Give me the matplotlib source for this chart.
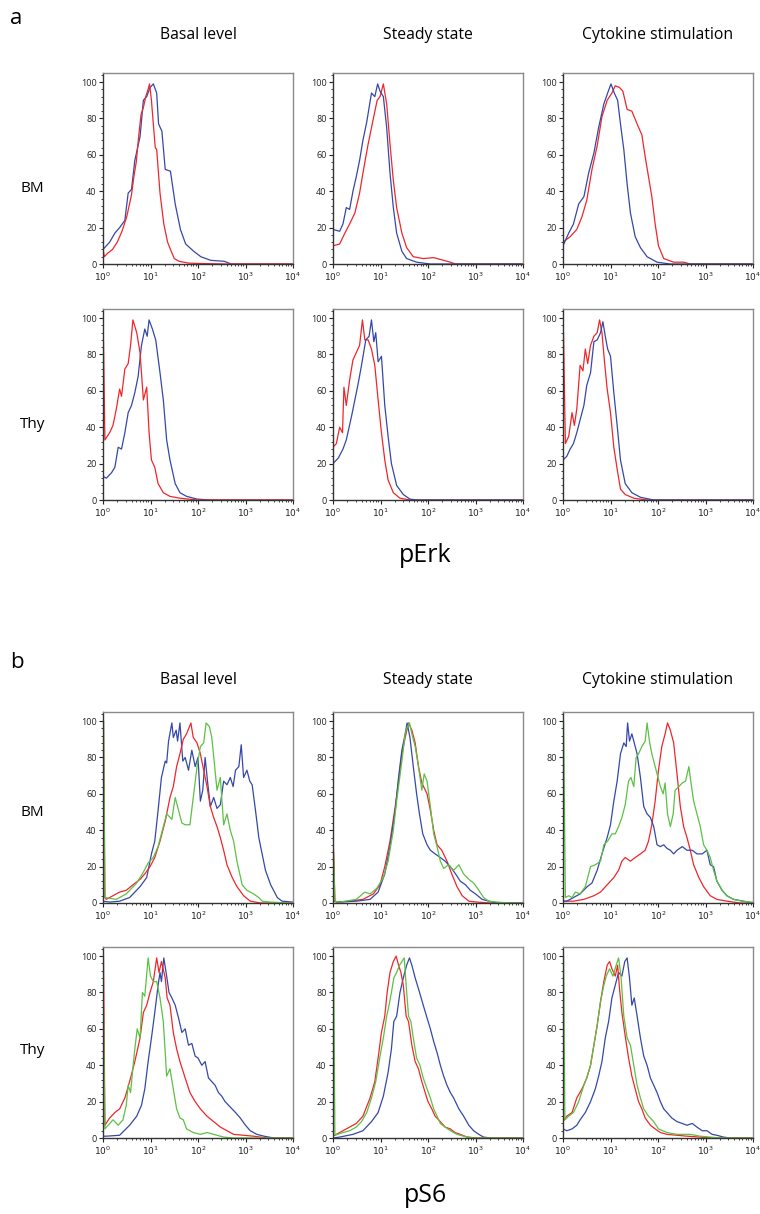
import numpy as np
import matplotlib
matplotlib.use("Agg")
import matplotlib.pyplot as plt
from matplotlib.ticker import MultipleLocator, LogLocator, NullFormatter, FixedFormatter

plt.rcParams['font.family'] = ['Open Sans', 'DejaVu Sans']

# columns / rows / panels
conditions = ["Basal level", "Steady state", "Cytokine stimulation"]
tissues = ["BM", "Thy"]
markers = ["pErk", "pS6"]
panel_letters = ["a", "b"]
y_ticks = [0, 20, 40, 60, 80, 100]
x_decades = [0, 1, 2, 3, 4]

# each curve: (log10 intensity, % of max)
# ---- pErk, BM ----
perk_bm_basal_red = [(0, 8), (0.03, 4), (0.1, 6), (0.2, 8), (0.3, 12), (0.4, 18), (0.5, 26), (0.6, 38), (0.65, 48),
                     (0.7, 56), (0.75, 70), (0.8, 82), (0.85, 86), (0.9, 92), (0.95, 96), (0.98, 99), (1.02, 90),
                     (1.05, 80), (1.1, 64), (1.13, 63), (1.2, 39), (1.28, 22), (1.36, 12), (1.42, 8), (1.5, 3),
                     (1.6, 1.5), (1.8, 0.5), (2.0, 0.3), (2.6, 0), (4, 0)]
perk_bm_basal_blue = [(0, 8), (0.07, 10), (0.14, 12), (0.25, 17), (0.35, 20), (0.46, 24), (0.53, 39), (0.6, 41),
                      (0.67, 57), (0.78, 70), (0.85, 90), (0.92, 92), (0.99, 97), (1.06, 99), (1.13, 94), (1.17, 77),
                      (1.24, 73), (1.31, 52), (1.42, 51), (1.52, 33), (1.63, 19), (1.74, 11), (1.91, 7), (2.06, 4),
                      (2.27, 2), (2.55, 1.5), (2.7, 0), (4, 0)]
perk_bm_steady_blue = [(0, 19), (0.14, 18), (0.21, 22), (0.28, 31), (0.35, 30), (0.42, 40), (0.49, 48), (0.56, 57),
                       (0.63, 68), (0.71, 78), (0.81, 94), (0.88, 92), (0.94, 99), (0.99, 95), (1.06, 92), (1.13, 75),
                       (1.2, 50), (1.27, 31), (1.34, 17), (1.45, 7), (1.55, 3), (1.76, 1), (2.05, 0), (4, 0)]
perk_bm_steady_red = [(0, 10), (0.14, 11), (0.25, 17), (0.35, 22), (0.46, 28), (0.56, 39), (0.63, 50), (0.74, 66),
                      (0.85, 80), (0.93, 90), (0.99, 92), (1.06, 99), (1.13, 88), (1.2, 66), (1.27, 46), (1.34, 31),
                      (1.45, 17), (1.55, 9), (1.69, 4), (1.9, 3), (2.12, 3.5), (2.33, 2), (2.47, 1), (2.58, 0), (4, 0)]
perk_bm_cyto_blue = [(0, 10), (0.12, 17), (0.22, 22), (0.33, 33), (0.44, 37), (0.54, 50), (0.65, 61), (0.75, 75),
                     (0.86, 88), (0.94, 94), (1.01, 99), (1.08, 94), (1.15, 90), (1.21, 77), (1.28, 63), (1.35, 44),
                     (1.42, 28), (1.52, 15), (1.63, 9), (1.77, 4), (1.98, 1), (2.26, 0), (4, 0)]
perk_bm_cyto_red = [(0, 12), (0.15, 15), (0.29, 19), (0.4, 26), (0.5, 35), (0.61, 52), (0.72, 65), (0.82, 81),
                    (0.93, 90), (1.03, 94), (1.1, 98), (1.19, 97), (1.26, 95), (1.35, 85), (1.45, 84), (1.56, 77),
                    (1.66, 71), (1.73, 59), (1.8, 48), (1.87, 37), (1.94, 22), (2.01, 10), (2.12, 3), (2.33, 1),
                    (2.54, 1), (2.68, 0), (4, 0)]
# ---- pErk, Thy ----
perk_thy_basal_red = [(0.005, 0), (0.01, 87), (0.04, 33), (0.14, 37), (0.21, 41), (0.28, 50), (0.35, 61), (0.39, 57),
                      (0.46, 72), (0.53, 75), (0.58, 85), (0.63, 99), (0.71, 92), (0.78, 81), (0.85, 55), (0.92, 62),
                      (0.97, 37), (1.02, 22), (1.09, 18), (1.16, 9), (1.27, 4), (1.41, 2), (1.62, 1), (1.98, 0), (4, 0)]
perk_thy_basal_blue = [(0, 13), (0.07, 12), (0.18, 15), (0.25, 18), (0.32, 29), (0.39, 28), (0.46, 37), (0.53, 48),
                       (0.6, 52), (0.67, 59), (0.74, 68), (0.81, 85), (0.88, 94), (0.93, 90), (0.97, 99), (1.04, 94),
                       (1.11, 88), (1.2, 70), (1.27, 55), (1.34, 33), (1.41, 22), (1.52, 9), (1.62, 4), (1.76, 2),
                       (1.98, 0.5), (2.26, 0), (4, 0)]
perk_thy_steady_red = [(0, 29), (0.07, 31), (0.14, 40), (0.2, 37), (0.23, 62), (0.28, 52), (0.35, 66), (0.42, 77),
                       (0.49, 81), (0.56, 85), (0.62, 99), (0.67, 88), (0.74, 88), (0.81, 83), (0.88, 74), (0.95, 55),
                       (1.02, 37), (1.09, 22), (1.16, 11), (1.27, 4), (1.41, 1), (1.62, 0), (4, 0)]
perk_thy_steady_blue = [(0, 20), (0.11, 23), (0.21, 28), (0.28, 33), (0.39, 46), (0.46, 55), (0.53, 64), (0.6, 74),
                        (0.69, 88), (0.76, 90), (0.81, 99), (0.86, 87), (0.9, 92), (0.95, 76), (1.02, 79), (1.09, 52),
                        (1.16, 35), (1.23, 20), (1.34, 8), (1.48, 3), (1.62, 0.5), (1.76, 0), (4, 0)]
perk_thy_cyto_red = [(0.005, 0), (0.01, 92), (0.05, 31), (0.12, 35), (0.19, 48), (0.24, 41), (0.29, 50), (0.36, 74),
                     (0.42, 71), (0.47, 83), (0.52, 75), (0.58, 85), (0.65, 90), (0.72, 92), (0.77, 99), (0.82, 92),
                     (0.87, 77), (0.93, 61), (1.0, 48), (1.07, 29), (1.14, 17), (1.21, 6), (1.31, 3), (1.49, 1),
                     (1.77, 0), (4, 0)]
perk_thy_cyto_blue = [(0, 22), (0.08, 24), (0.15, 28), (0.22, 31), (0.29, 37), (0.36, 44), (0.44, 52), (0.5, 63),
                      (0.58, 70), (0.65, 87), (0.72, 88), (0.79, 92), (0.84, 98), (0.89, 90), (0.94, 83), (1.0, 79),
                      (1.07, 59), (1.14, 41), (1.21, 22), (1.31, 9), (1.45, 4), (1.63, 1.5), (1.91, 0), (4, 0)]

# ---- pS6, BM ----
ps6_bm_basal_red = [(0.005, 0), (0.01, 100), (0.04, 3), (0.07, 2), (0.21, 4), (0.35, 6), (0.49, 7), (0.63, 10),
                    (0.78, 13), (0.88, 16), (0.99, 20), (1.09, 25), (1.2, 34), (1.31, 45), (1.41, 58), (1.48, 64),
                    (1.55, 75), (1.62, 82), (1.69, 90), (1.76, 93), (1.85, 99), (1.9, 91), (1.98, 88), (2.05, 82),
                    (2.12, 73), (2.19, 64), (2.26, 53), (2.33, 47), (2.4, 42), (2.47, 36), (2.54, 29), (2.61, 21),
                    (2.72, 14), (2.82, 9), (2.96, 4), (3.1, 1), (3.32, 0), (4, 0)]
ps6_bm_basal_green = [(0.005, 0), (0.012, 100), (0.04, 3), (0.28, 2), (0.49, 5), (0.71, 11), (0.85, 17), (0.95, 22),
                      (1.06, 25), (1.16, 31), (1.27, 42), (1.34, 49), (1.45, 46), (1.52, 58), (1.59, 51), (1.66, 44),
                      (1.73, 43), (1.83, 43), (1.9, 58), (1.98, 75), (2.05, 86), (2.12, 88), (2.17, 99), (2.24, 97),
                      (2.29, 91), (2.34, 78), (2.4, 62), (2.47, 69), (2.54, 43), (2.61, 49), (2.68, 40), (2.75, 34),
                      (2.82, 23), (2.93, 10), (3.03, 7), (3.17, 5), (3.28, 3), (3.35, 1), (3.53, 0.5), (3.88, 0), (4, 0)]
ps6_bm_basal_blue = [(0, 1), (0.14, 0.5), (0.35, 1), (0.56, 3), (0.78, 9), (0.92, 14), (1.02, 27), (1.09, 34),
                     (1.16, 51), (1.23, 69), (1.31, 78), (1.34, 77), (1.38, 89), (1.45, 99), (1.48, 91), (1.54, 95),
                     (1.57, 89), (1.62, 99), (1.68, 78), (1.73, 80), (1.8, 73), (1.87, 84), (1.94, 75), (2.0, 80),
                     (2.05, 56), (2.1, 62), (2.15, 80), (2.2, 67), (2.26, 53), (2.33, 58), (2.4, 52), (2.47, 54),
                     (2.54, 67), (2.61, 65), (2.68, 69), (2.74, 64), (2.79, 73), (2.86, 75), (2.91, 87), (2.96, 69),
                     (3.03, 73), (3.09, 67), (3.14, 65), (3.21, 51), (3.28, 36), (3.35, 27), (3.42, 18), (3.53, 10),
                     (3.67, 3), (3.77, 1), (4, 0.5)]
ps6_bm_steady_red = [(0.005, 0), (0.01, 30), (0.04, 1), (0.07, 0.5), (0.35, 1), (0.63, 2), (0.85, 5), (0.99, 10),
                     (1.09, 20), (1.2, 34), (1.31, 53), (1.38, 67), (1.45, 82), (1.52, 91), (1.59, 99), (1.66, 95),
                     (1.73, 88), (1.8, 75), (1.87, 66), (1.98, 60), (2.05, 51), (2.12, 40), (2.19, 32), (2.29, 29),
                     (2.4, 23), (2.5, 16), (2.61, 9), (2.72, 4), (2.86, 1), (3.03, 0.5), (3.32, 0), (4, 0)]
ps6_bm_steady_green = [(0.005, 0), (0.012, 28), (0.04, 1), (0.14, 0.5), (0.49, 2), (0.67, 6), (0.78, 5), (0.92, 8),
                       (1.06, 14), (1.16, 23), (1.27, 40), (1.34, 56), (1.45, 78), (1.52, 93), (1.55, 96), (1.61, 99),
                       (1.66, 93), (1.73, 86), (1.8, 75), (1.87, 62), (1.92, 71), (1.98, 67), (2.05, 53), (2.12, 38),
                       (2.19, 31), (2.26, 23), (2.33, 19), (2.43, 21), (2.54, 18), (2.65, 21), (2.75, 16), (2.86, 13),
                       (2.96, 11), (3.07, 7), (3.17, 3), (3.28, 1), (3.46, 0.5), (3.74, 0), (4, 0)]
ps6_bm_steady_blue = [(0, 1), (0.14, 0.5), (0.49, 1), (0.78, 2), (0.95, 6), (1.09, 16), (1.2, 31), (1.31, 51),
                      (1.38, 69), (1.45, 84), (1.52, 93), (1.56, 99), (1.62, 91), (1.69, 75), (1.76, 60), (1.82, 49),
                      (1.89, 38), (1.98, 32), (2.05, 29), (2.15, 27), (2.26, 25), (2.36, 23), (2.47, 20), (2.58, 16),
                      (2.68, 12), (2.79, 10), (2.89, 7), (3.0, 5), (3.14, 2), (3.28, 1), (3.46, 0), (4, 0)]
ps6_bm_cyto_green = [(0.005, 0), (0.012, 100), (0.05, 3), (0.12, 4), (0.19, 3), (0.26, 6), (0.36, 5), (0.47, 9),
                     (0.58, 20), (0.68, 21), (0.79, 23), (0.86, 32), (0.94, 34), (1.03, 38), (1.1, 38), (1.17, 42),
                     (1.24, 47), (1.31, 54), (1.38, 67), (1.43, 69), (1.49, 64), (1.54, 80), (1.59, 82), (1.66, 86),
                     (1.73, 89), (1.77, 99), (1.82, 89), (1.87, 82), (1.92, 77), (1.98, 71), (2.05, 64), (2.11, 60),
                     (2.15, 66), (2.2, 49), (2.26, 42), (2.32, 49), (2.36, 62), (2.44, 64), (2.51, 66), (2.58, 67),
                     (2.65, 75), (2.69, 67), (2.75, 56), (2.82, 49), (2.89, 42), (2.96, 32), (3.03, 29), (3.1, 25),
                     (3.17, 18), (3.24, 12), (3.35, 7), (3.45, 4), (3.59, 2), (3.77, 1), (3.94, 0.5), (4, 0.5)]
ps6_bm_cyto_blue = [(0, 1), (0.08, 1), (0.22, 3), (0.36, 5), (0.51, 9), (0.61, 11), (0.72, 18), (0.82, 27),
                    (0.93, 36), (1.0, 43), (1.07, 56), (1.14, 67), (1.21, 82), (1.28, 88), (1.33, 86), (1.36, 99),
                    (1.4, 89), (1.45, 93), (1.5, 88), (1.56, 82), (1.63, 69), (1.7, 53), (1.77, 49), (1.84, 47),
                    (1.91, 42), (1.98, 32), (2.05, 31), (2.12, 32), (2.19, 30), (2.26, 29), (2.33, 27), (2.4, 29),
                    (2.51, 31), (2.61, 29), (2.72, 29), (2.82, 27), (2.93, 27), (3.03, 29), (3.1, 21), (3.17, 20),
                    (3.24, 12), (3.35, 7), (3.45, 4), (3.59, 2), (3.8, 1), (4, 0)]
ps6_bm_cyto_red = [(0, 1), (0.22, 1), (0.44, 2), (0.65, 4), (0.79, 6), (0.93, 10), (1.07, 14), (1.17, 18), (1.24, 23),
                   (1.31, 25), (1.42, 23), (1.52, 25), (1.63, 27), (1.73, 29), (1.8, 34), (1.87, 43), (1.94, 56),
                   (2.01, 73), (2.08, 86), (2.15, 93), (2.2, 99), (2.26, 95), (2.33, 88), (2.4, 71), (2.47, 53),
                   (2.54, 42), (2.61, 36), (2.68, 29), (2.75, 21), (2.86, 14), (2.96, 9), (3.1, 4), (3.24, 2),
                   (3.45, 1), (3.73, 0), (4, 0)]
# ---- pS6, Thy ----
ps6_thy_basal_red = [(0.005, 0), (0.01, 100), (0.04, 7), (0.14, 11), (0.25, 14), (0.35, 16), (0.46, 22), (0.56, 31),
                     (0.67, 42), (0.78, 55), (0.85, 69), (0.92, 73), (0.99, 80), (1.06, 86), (1.13, 99), (1.18, 91),
                     (1.23, 97), (1.31, 88), (1.35, 77), (1.41, 73), (1.48, 58), (1.55, 49), (1.62, 42), (1.73, 33),
                     (1.83, 25), (1.94, 20), (2.05, 16), (2.19, 12), (2.33, 9), (2.47, 6), (2.61, 4), (2.75, 2),
                     (2.96, 1.5), (3.17, 1), (3.46, 0), (4, 0)]
ps6_thy_basal_green = [(0.005, 0), (0.012, 70), (0.04, 5), (0.21, 10), (0.32, 7), (0.42, 10), (0.49, 18), (0.53, 29),
                       (0.58, 25), (0.62, 36), (0.67, 49), (0.72, 60), (0.78, 55), (0.83, 80), (0.88, 78), (0.95, 99),
                       (1.0, 89), (1.06, 86), (1.13, 86), (1.2, 77), (1.27, 64), (1.34, 34), (1.41, 38), (1.48, 27),
                       (1.55, 16), (1.62, 11), (1.69, 10), (1.76, 5), (1.9, 3), (2.05, 2), (2.19, 3), (2.33, 2),
                       (2.54, 0.5), (2.75, 0), (4, 0)]
ps6_thy_basal_blue = [(0, 1), (0.07, 1), (0.35, 1.5), (0.56, 7), (0.71, 12), (0.81, 18), (0.88, 27), (0.95, 42),
                      (1.02, 55), (1.09, 69), (1.16, 84), (1.2, 91), (1.23, 86), (1.28, 99), (1.34, 89), (1.39, 80),
                      (1.45, 77), (1.52, 73), (1.59, 66), (1.66, 58), (1.73, 60), (1.8, 51), (1.87, 52), (1.94, 45),
                      (2.0, 44), (2.08, 40), (2.15, 42), (2.22, 33), (2.29, 31), (2.36, 29), (2.43, 25), (2.5, 23),
                      (2.57, 20), (2.68, 17), (2.79, 14), (2.89, 11), (3.0, 7), (3.1, 4), (3.24, 2), (3.39, 1),
                      (3.6, 0), (4, 0)]
ps6_thy_steady_green = [(0.005, 0), (0.012, 100), (0.04, 1.5), (0.21, 3), (0.35, 4), (0.49, 6), (0.6, 9), (0.71, 14),
                        (0.81, 22), (0.9, 31), (0.99, 45), (1.06, 55), (1.13, 67), (1.18, 73), (1.23, 80), (1.28, 88),
                        (1.34, 91), (1.4, 95), (1.45, 97), (1.5, 99), (1.54, 84), (1.59, 67), (1.64, 64), (1.69, 55),
                        (1.76, 44), (1.83, 40), (1.9, 33), (1.98, 27), (2.05, 22), (2.12, 16), (2.19, 12), (2.26, 8),
                        (2.36, 6), (2.47, 4), (2.61, 2), (2.75, 1), (2.96, 0), (4, 0)]
ps6_thy_steady_red = [(0, 1), (0.07, 2), (0.21, 4), (0.35, 6), (0.49, 8), (0.63, 12), (0.78, 22), (0.88, 31),
                      (0.95, 44), (1.02, 58), (1.09, 67), (1.14, 80), (1.2, 91), (1.27, 97), (1.33, 100), (1.38, 95),
                      (1.43, 91), (1.48, 84), (1.54, 67), (1.59, 64), (1.66, 51), (1.73, 42), (1.8, 38), (1.87, 31),
                      (1.94, 25), (2.0, 20), (2.08, 16), (2.15, 12), (2.26, 9), (2.36, 6), (2.47, 5), (2.57, 3),
                      (2.68, 2), (2.82, 0.5), (3.03, 0), (4, 0)]
ps6_thy_steady_blue = [(0, 0), (0.14, 0.5), (0.42, 2), (0.63, 4), (0.81, 9), (0.95, 14), (1.06, 23), (1.16, 36),
                       (1.23, 49), (1.28, 64), (1.34, 67), (1.41, 80), (1.48, 88), (1.55, 95), (1.61, 99), (1.66, 95),
                       (1.73, 88), (1.8, 82), (1.9, 73), (1.98, 66), (2.05, 60), (2.12, 53), (2.19, 47), (2.26, 40),
                       (2.33, 34), (2.4, 29), (2.47, 25), (2.54, 22), (2.65, 16), (2.75, 12), (2.86, 7), (2.96, 4),
                       (3.07, 2), (3.17, 0.5), (3.32, 0), (4, 0)]
ps6_thy_cyto_green = [(0.005, 0), (0.012, 100), (0.04, 10), (0.12, 12), (0.22, 14), (0.33, 20), (0.44, 29), (0.5, 33),
                      (0.58, 40), (0.65, 51), (0.72, 62), (0.79, 75), (0.86, 84), (0.91, 89), (0.98, 93), (1.05, 89),
                      (1.12, 95), (1.17, 99), (1.22, 89), (1.28, 67), (1.35, 55), (1.42, 51), (1.49, 40), (1.56, 29),
                      (1.63, 22), (1.7, 16), (1.8, 12), (1.91, 9), (2.01, 5), (2.19, 3), (2.4, 2), (2.68, 2),
                      (2.89, 1), (3.1, 0.5), (3.31, 0), (4, 0)]
ps6_thy_cyto_red = [(0, 9), (0.08, 12), (0.19, 14), (0.29, 22), (0.4, 27), (0.5, 33), (0.58, 40), (0.65, 51),
                    (0.72, 62), (0.79, 75), (0.86, 86), (0.93, 95), (0.98, 97), (1.03, 93), (1.1, 89), (1.15, 95),
                    (1.19, 82), (1.24, 69), (1.31, 56), (1.38, 44), (1.45, 34), (1.52, 27), (1.59, 20), (1.66, 16),
                    (1.73, 11), (1.84, 7), (1.94, 5), (2.05, 3), (2.19, 2), (2.4, 1.5), (2.61, 1), (2.89, 0.5),
                    (3.17, 0), (4, 0)]
ps6_thy_cyto_blue = [(0, 5), (0.08, 4), (0.19, 5), (0.29, 7), (0.36, 10), (0.47, 14), (0.58, 20), (0.68, 27),
                     (0.75, 34), (0.82, 42), (0.89, 55), (0.96, 64), (1.03, 77), (1.1, 84), (1.17, 91), (1.24, 89),
                     (1.3, 97), (1.35, 99), (1.4, 88), (1.45, 73), (1.5, 77), (1.56, 67), (1.63, 55), (1.7, 45),
                     (1.77, 40), (1.84, 33), (1.91, 29), (1.98, 25), (2.05, 20), (2.12, 16), (2.19, 14), (2.29, 11),
                     (2.4, 9), (2.51, 8), (2.61, 7), (2.72, 8), (2.82, 6), (2.93, 4), (3.03, 4), (3.14, 2),
                     (3.24, 1.5), (3.38, 0.5), (3.52, 0), (4, 0)]

RED = "#f0262b"
BLUE = "#3548a8"
GREEN = "#5cc144"

# (panel, row, col) -> curves drawn in order
curves = {
    (0, 0, 0): [(perk_bm_basal_blue, BLUE), (perk_bm_basal_red, RED)],
    (0, 0, 1): [(perk_bm_steady_red, RED), (perk_bm_steady_blue, BLUE)],
    (0, 0, 2): [(perk_bm_cyto_red, RED), (perk_bm_cyto_blue, BLUE)],
    (0, 1, 0): [(perk_thy_basal_blue, BLUE), (perk_thy_basal_red, RED)],
    (0, 1, 1): [(perk_thy_steady_red, RED), (perk_thy_steady_blue, BLUE)],
    (0, 1, 2): [(perk_thy_cyto_red, RED), (perk_thy_cyto_blue, BLUE)],
    (1, 0, 0): [(ps6_bm_basal_blue, BLUE), (ps6_bm_basal_red, RED), (ps6_bm_basal_green, GREEN)],
    (1, 0, 1): [(ps6_bm_steady_red, RED), (ps6_bm_steady_blue, BLUE), (ps6_bm_steady_green, GREEN)],
    (1, 0, 2): [(ps6_bm_cyto_red, RED), (ps6_bm_cyto_blue, BLUE), (ps6_bm_cyto_green, GREEN)],
    (1, 1, 0): [(ps6_thy_basal_blue, BLUE), (ps6_thy_basal_red, RED), (ps6_thy_basal_green, GREEN)],
    (1, 1, 1): [(ps6_thy_steady_blue, BLUE), (ps6_thy_steady_red, RED), (ps6_thy_steady_green, GREEN)],
    (1, 1, 2): [(ps6_thy_cyto_blue, BLUE), (ps6_thy_cyto_red, RED), (ps6_thy_cyto_green, GREEN)],
}

W, H = 760, 1214
fig = plt.figure(figsize=(W / 100, H / 100), dpi=100)

col_left = [103, 333, 563]
ax_w = 190
row_top = [[73, 309], [712, 947]]
ax_h = 191

def fx(px):
    return px / W

def fy(py):
    return 1 - py / H

for (p, r, c), lines in curves.items():
    top = row_top[p][r]
    ax = fig.add_axes([fx(col_left[c]), fy(top + ax_h), ax_w / W, ax_h / H])
    for pts, col in lines:
        arr = np.array(pts, dtype=float)
        ax.plot(np.power(10.0, arr[:, 0]), arr[:, 1], color=col, lw=0.9)
    ax.set_xscale("log")
    ax.set_xlim(1, 1e4)
    ax.set_ylim(0, 105)
    ax.set_yticks(y_ticks)
    ax.yaxis.set_minor_locator(MultipleLocator(4))
    ax.set_xticks([10.0 ** d for d in x_decades])
    ax.xaxis.set_major_formatter(FixedFormatter(["$10^{%d}$" % d for d in x_decades]))
    ax.xaxis.set_minor_locator(LogLocator(base=10, subs=np.arange(2, 10)))
    ax.xaxis.set_minor_formatter(NullFormatter())
    ax.tick_params(which="major", length=3, width=0.8, labelsize=6.5, colors="#222222", pad=1.5)
    ax.tick_params(which="minor", length=1.6, width=0.6, colors="#222222")
    for s in ["left", "bottom"]:
        ax.spines[s].set_color("#333333")
        ax.spines[s].set_linewidth(1.0)
    for s in ["top", "right"]:
        ax.spines[s].set_color("#8a8a8a")
        ax.spines[s].set_linewidth(1.0)

# text
title_y = [35, 680]
for p in range(2):
    fig.text(fx(10), fy(title_y[p] - 17), panel_letters[p], fontsize=16, va="center", ha="left")
    for c in range(3):
        fig.text(fx(col_left[c] + ax_w / 2), fy(title_y[p]), conditions[c], fontsize=11.3, ha="center", va="center")
row_label_y = [[188, 425], [812, 1050]]
for p in range(2):
    for r in range(2):
        fig.text(fx(20), fy(row_label_y[p][r]), tissues[r], fontsize=11, ha="left", va="center")
marker_y = [555, 1195]
for p in range(2):
    fig.text(fx(425), fy(marker_y[p]), markers[p], fontsize=18, ha="center", va="center")

fig.savefig("out.png", dpi=100)
